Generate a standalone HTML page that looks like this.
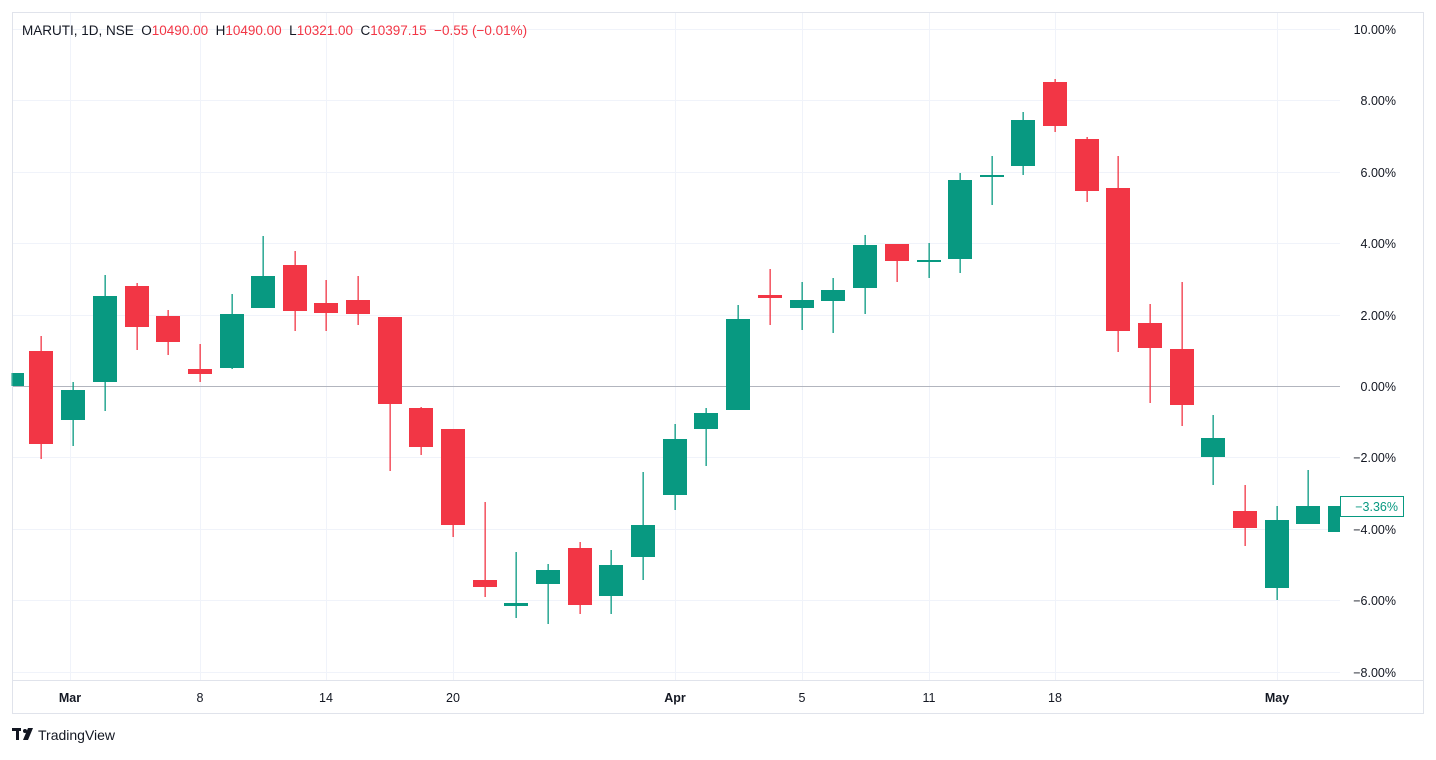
<!DOCTYPE html>
<html><head><meta charset="utf-8"><style>
body{margin:0;background:#fff;width:1436px;height:755px;overflow:hidden;font-family:"Liberation Sans",sans-serif}
</style></head><body>
<svg width="1436" height="755" xmlns="http://www.w3.org/2000/svg" font-family="Liberation Sans, sans-serif">
<rect x="12.5" y="12.5" width="1411" height="701" fill="#fff" stroke="#e0e3eb"/>
<g stroke="#f0f3fa" stroke-width="1">
<line x1="13" x2="1340" y1="29.5" y2="29.5"/><line x1="13" x2="1340" y1="100.5" y2="100.5"/><line x1="13" x2="1340" y1="172.5" y2="172.5"/><line x1="13" x2="1340" y1="243.5" y2="243.5"/><line x1="13" x2="1340" y1="315.5" y2="315.5"/><line x1="13" x2="1340" y1="457.5" y2="457.5"/><line x1="13" x2="1340" y1="529.5" y2="529.5"/><line x1="13" x2="1340" y1="600.5" y2="600.5"/><line x1="13" x2="1340" y1="672.5" y2="672.5"/>
<line y1="13" y2="680" x1="70.5" x2="70.5"/><line y1="13" y2="680" x1="200.5" x2="200.5"/><line y1="13" y2="680" x1="326.5" x2="326.5"/><line y1="13" y2="680" x1="453.5" x2="453.5"/><line y1="13" y2="680" x1="675.5" x2="675.5"/><line y1="13" y2="680" x1="802.5" x2="802.5"/><line y1="13" y2="680" x1="929.5" x2="929.5"/><line y1="13" y2="680" x1="1055.5" x2="1055.5"/><line y1="13" y2="680" x1="1277.5" x2="1277.5"/>
</g>
<line x1="13" x2="1340" y1="386.5" y2="386.5" stroke="#b2b5be"/>
<line x1="13" x2="1423" y1="680.5" y2="680.5" stroke="#e0e3eb"/>
<g id="c"></g>
<rect x="1340" y="13" width="83" height="667" fill="#fff"/>
<g font-size="12.5" fill="#131722" text-anchor="end">
<text x="1396" y="34">10.00%</text><text x="1396" y="105">8.00%</text><text x="1396" y="177">6.00%</text><text x="1396" y="248">4.00%</text><text x="1396" y="320">2.00%</text><text x="1396" y="391">0.00%</text><text x="1396" y="462">−2.00%</text><text x="1396" y="534">−4.00%</text><text x="1396" y="605">−6.00%</text><text x="1396" y="677">−8.00%</text>
</g>
<rect x="1340.5" y="496.5" width="63" height="20" fill="#fff" stroke="#089981"/>
<text x="1398" y="511" font-size="12.5" fill="#089981" text-anchor="end">−3.36%</text>
<g font-size="12.5" fill="#131722" text-anchor="middle">
<text x="70" y="702" font-weight="bold">Mar</text><text x="200" y="702">8</text><text x="326" y="702">14</text><text x="453" y="702">20</text><text x="675" y="702" font-weight="bold">Apr</text><text x="802" y="702">5</text><text x="929" y="702">11</text><text x="1055" y="702">18</text><text x="1277" y="702" font-weight="bold">May</text>
</g>
<text x="22" y="35" font-size="13.5" fill="#131722" xml:space="preserve">MARUTI, 1D, NSE  O<tspan fill="#f23645">10490.00</tspan>  H<tspan fill="#f23645">10490.00</tspan>  L<tspan fill="#f23645">10321.00</tspan>  C<tspan fill="#f23645">10397.15  −0.55 (−0.01%)</tspan></text>
<g fill="#131722"><rect x="12" y="728" width="9" height="3"/><rect x="16" y="728" width="3" height="12"/><circle cx="25" cy="731" r="2"/><path d="M28 728h5l-5 12h-5z"/></g>
<text x="38" y="740" font-size="14" fill="#131722">TradingView</text>
</svg>
<script>
var d=[[12,373,386,373,386,'g'],[41,351,444,336,459,'r'],[73,390,420,382,446,'g'],[105,296,382,275,411,'g'],[137,286,327,283,350,'r'],[168,316,342,310,355,'r'],[200,369,374,344,382,'r'],[232,314,368,294,369,'g'],[263,276,308,236,308,'g'],[295,265,311,251,331,'r'],[326,303,313,280,331,'r'],[358,300,314,276,325,'r'],[390,317,404,317,471,'r'],[421,408,447,407,455,'r'],[453,429,525,429,537,'r'],[485,580,587,502,597,'r'],[516,603,606,552,618,'g'],[548,570,584,564,624,'g'],[580,548,605,542,614,'r'],[611,565,596,550,614,'g'],[643,525,557,472,580,'g'],[675,439,495,424,510,'g'],[706,413,429,408,466,'g'],[738,319,410,305,410,'g'],[770,295,298,269,325,'r'],[802,300,308,282,330,'g'],[833,290,301,278,333,'g'],[865,245,288,235,314,'g'],[897,244,261,244,282,'r'],[929,260,261,243,278,'g'],[960,180,259,173,273,'g'],[992,175,177,156,205,'g'],[1023,120,166,112,175,'g'],[1055,82,126,79,132,'r'],[1087,139,191,137,202,'r'],[1118,188,331,156,352,'r'],[1150,323,348,304,403,'r'],[1182,349,405,282,426,'r'],[1213,438,457,415,485,'g'],[1245,511,528,485,546,'r'],[1277,520,588,506,600,'g'],[1308,506,524,470,524,'g'],[1340,506,532,506,532,'g']];
var s='';d.forEach(function(c){var col=c[5]=='g'?'#089981':'#f23645';var x=c[0];var x0=Math.max(13,x-12);var w=Math.min(x+12,1340)-x0;
s+='<rect x="'+(x-0.5)+'" y="'+c[3]+'" width="1.3" height="'+(c[4]-c[3])+'" fill="'+col+'"/>';
s+='<rect x="'+x0+'" y="'+c[1]+'" width="'+w+'" height="'+Math.max(2,c[2]-c[1])+'" fill="'+col+'"/>';});
document.getElementById('c').innerHTML=s;
</script>
</body></html>
